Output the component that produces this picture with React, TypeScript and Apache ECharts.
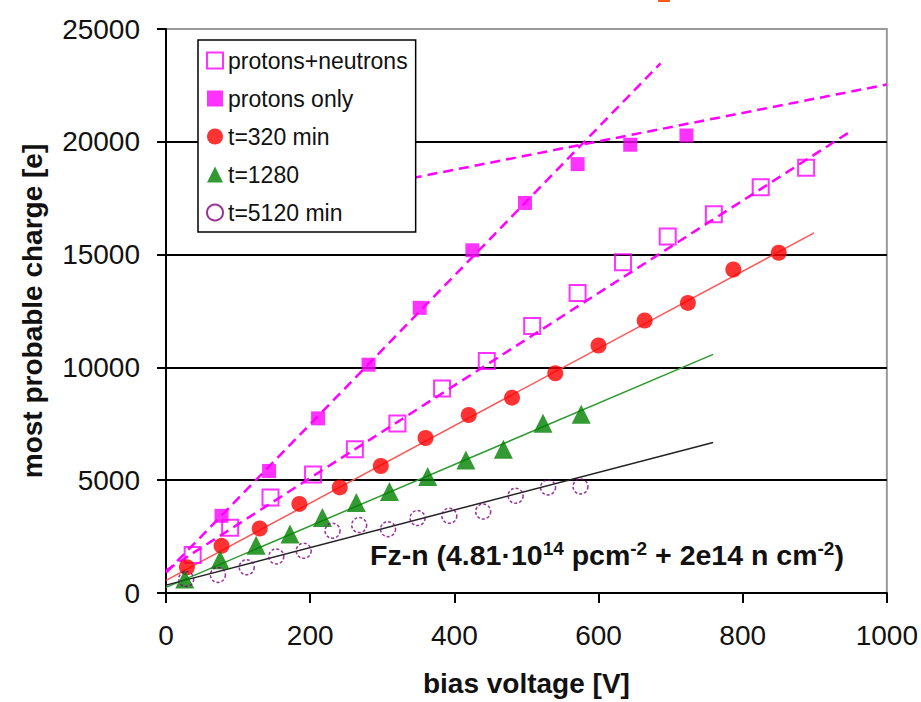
import React, { useEffect, useRef } from "react";
import * as echarts from "echarts";

// ---- Data ----
const xTicks = [0, 200, 400, 600, 800, 1000];
const yTicks = [0, 5000, 10000, 15000, 20000, 25000];

const seriesNames = ["protons+neutrons", "protons only", "t=320 min", "t=1280", "t=5120 min"];

const pnV = [37, 89, 145, 204, 262, 321, 383, 445, 508, 571, 634, 696, 760, 825, 888];
const pnQ = [1680, 2890, 4230, 5250, 6370, 7510, 9060, 10280, 11830, 13300, 14660, 15800, 16790, 17980, 18850];

const pV = [77, 143, 211, 281, 352, 425, 498, 571, 644, 722];
const pQ = [3420, 5410, 7740, 10120, 12640, 15190, 17290, 19010, 19870, 20280];

const t320V = [29, 77, 130, 185, 241, 298, 360, 420, 480, 540, 600, 664, 724, 787, 850];
const t320Q = [1140, 2090, 2860, 3950, 4680, 5630, 6870, 7890, 8660, 9740, 10970, 12080, 12860, 14340, 15080];

const t1280V = [26, 75, 125, 172, 217, 264, 310, 363, 416, 468, 523, 576];
const t1280Q = [620, 1470, 2120, 2610, 3350, 4010, 4500, 5160, 5890, 6370, 7520, 7920];

const t5120V = [28, 72, 112, 153, 191, 231, 268, 308, 349, 393, 440, 485, 530, 575];
const t5120Q = [620, 800, 1140, 1620, 1870, 2760, 3010, 2830, 3320, 3420, 3610, 4310, 4680, 4720];

// fit lines: [startV, startQ, endV, endQ]
const pnFit = [0, 1000, 953, 20530];
const pSteepFit = [0, 900, 686, 23480];
const pFlatFit = [341, 18390, 1000, 22540];
const t320Fit = [0, 560, 899, 15960];
const t1280Fit = [0, 250, 759, 10580];
const t5120Fit = [0, 350, 759, 6670];

const FONT = "'Liberation Sans', Arial, sans-serif";

const zip = (a: number[], b: number[]) => a.map((v, i) => [v, b[i]]);
const seg = (f: number[]) => [[f[0], f[1]], [f[2], f[3]]];

export default function App() {
  const ref = useRef<HTMLDivElement>(null);
  useEffect(() => {
    if (!ref.current) return;
    const chart = echarts.init(ref.current, null, { renderer: "svg" });

    const fitLine = (name: string, f: number[], color: string, width: number, dashed: boolean) => ({
      type: "line",
      name,
      data: seg(f),
      symbol: "none",
      silent: true,
      z: 1,
      lineStyle: { color, width, type: dashed ? [10, 6] : "solid" },
    });

    chart.setOption({
      animation: false,
      backgroundColor: "#fff",
      textStyle: { fontFamily: FONT },
      grid: {
        left: 166,
        right: 32,
        top: 29,
        bottom: 108,
        show: true,
        borderColor: "#9a9a9a",
        borderWidth: 2,
        backgroundColor: "#fff",
      },
      legend: {
        orient: "vertical",
        left: 198,
        top: 40,
        padding: [9, 8, 8, 8],
        itemGap: 15,
        itemWidth: 16,
        itemHeight: 16,
        borderColor: "#000",
        borderWidth: 1.5,
        borderRadius: 0,
        backgroundColor: "#fff",
        z: 10,
        data: seriesNames,
        textStyle: { fontSize: 23, color: "#111", fontFamily: FONT },
      },
      xAxis: {
        type: "value",
        min: xTicks[0],
        max: xTicks[xTicks.length - 1],
        interval: 200,
        name: "bias voltage [V]",
        nameLocation: "middle",
        nameGap: 76,
        nameTextStyle: { fontSize: 28, fontWeight: "bold", color: "#111", fontFamily: FONT },
        axisLine: { lineStyle: { color: "#000", width: 2 } },
        axisTick: { show: true, inside: false, length: 10, lineStyle: { color: "#000", width: 2 } },
        axisLabel: { fontSize: 28, color: "#111", margin: 28, fontFamily: FONT, formatter: (v: number) => String(v) },
        splitLine: { show: false },
      },
      yAxis: {
        type: "value",
        min: yTicks[0],
        max: yTicks[yTicks.length - 1],
        interval: 5000,
        name: "most probable charge [e]",
        nameLocation: "middle",
        nameGap: 120,
        nameTextStyle: { fontSize: 28, fontWeight: "bold", color: "#111", fontFamily: FONT },
        axisLine: { show: true, lineStyle: { color: "#000", width: 2 } },
        axisTick: { show: true, inside: false, length: 9, lineStyle: { color: "#000", width: 2 } },
        axisLabel: { fontSize: 28, color: "#111", margin: 26, fontFamily: FONT, formatter: (v: number) => String(v) },
        splitLine: { show: true, showMinLine: false, showMaxLine: false, lineStyle: { color: "#000", width: 2 } },
      },
      graphic: [
        { type: "rect", left: 658, top: 0, shape: { width: 12, height: 2 }, style: { fill: "#ff5a1e" } },
        {
          type: "text",
          left: 370,
          top: 539,
          z: 20,
          style: {
            text: "Fz-n (4.81·10{sup|14} pcm{sup|-2} + 2e14 n cm{sup|-2})",
            font: "bold 28.5px " + FONT,
            fill: "#111",
            rich: {
              sup: { fontSize: 19, fontWeight: "bold", fontFamily: FONT, fill: "#111", verticalAlign: "top", padding: [0, 0, 13, 0] },
            },
          },
        },
      ],
      series: [
        fitLine("fit p+n", pnFit, "#ff00ff", 2.5, true),
        fitLine("fit p steep", pSteepFit, "#ff00ff", 2.5, true),
        fitLine("fit p flat", pFlatFit, "#ff00ff", 2.5, true),
        fitLine("fit 320", t320Fit, "#ff5555", 1.5, false),
        fitLine("fit 1280", t1280Fit, "#2f9a2f", 1.5, false),
        fitLine("fit 5120", t5120Fit, "#222", 1.5, false),
        {
          type: "scatter",
          name: seriesNames[0],
          data: zip(pnV, pnQ),
          symbol: "rect",
          symbolSize: 16,
          z: 3,
          itemStyle: { color: "rgba(255,255,255,0)", borderColor: "#ff00ff", borderWidth: 2 },
        },
        {
          type: "scatter",
          name: seriesNames[1],
          data: zip(pV, pQ),
          symbol: "rect",
          symbolSize: 14,
          z: 3,
          itemStyle: { color: "#ff00ff" },
        },
        {
          type: "scatter",
          name: seriesNames[2],
          data: zip(t320V, t320Q),
          symbol: "circle",
          symbolSize: 16,
          z: 3,
          itemStyle: { color: "#ff0000" },
        },
        {
          type: "scatter",
          name: seriesNames[3],
          data: zip(t1280V, t1280Q),
          symbol: "triangle",
          symbolSize: 19,
          z: 3,
          itemStyle: { color: "#008000" },
        },
        {
          type: "scatter",
          name: seriesNames[4],
          data: zip(t5120V, t5120Q),
          symbol: "circle",
          symbolSize: 15,
          z: 3,
          itemStyle: { color: "rgba(255,255,255,0)", borderColor: "#800080", borderWidth: 1.5, borderType: [3, 2] },
        },
      ],
    });
    return () => chart.dispose();
  }, []);
  return <div ref={ref} style={{ width: 921, height: 702, position: "absolute", left: 0, top: 0 }} />;
}
